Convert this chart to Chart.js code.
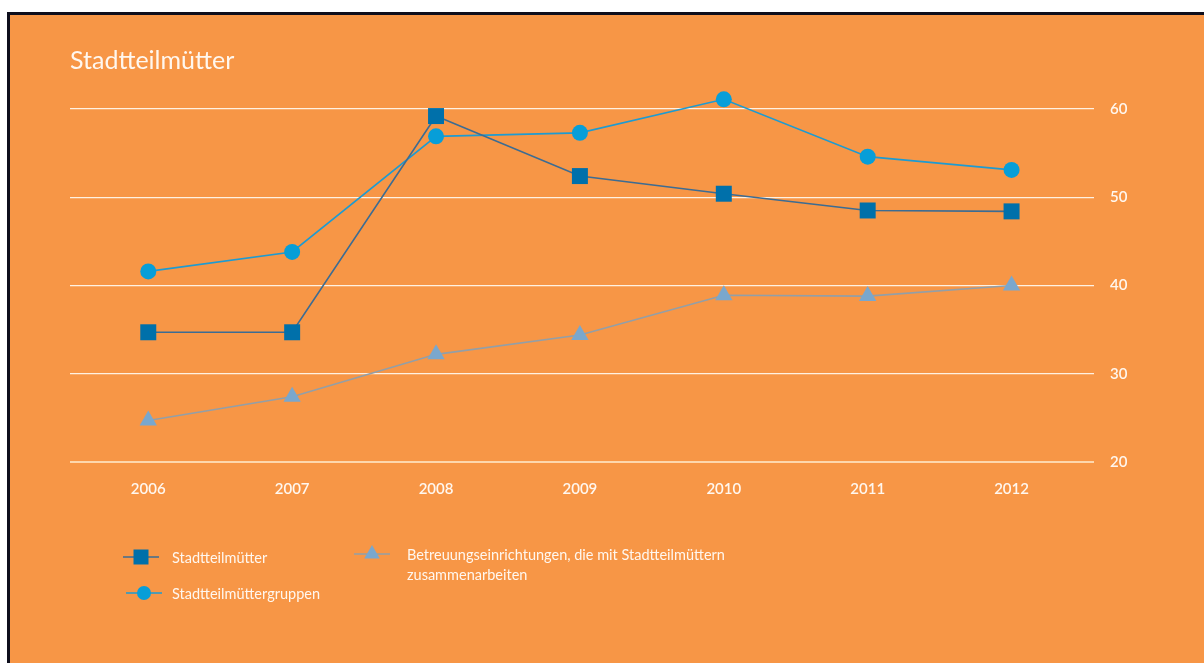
<!DOCTYPE html>
<html>
<head>
<meta charset="utf-8">
<script src="https://cdn.jsdelivr.net/npm/chart.js@4.4.1/dist/chart.umd.min.js"></script>
<style>
  html, body { margin: 0; padding: 0; background: #ffffff; }
  #frame {
    position: absolute; left: 7px; top: 12px; width: 1197px; height: 651px;
    box-sizing: border-box; border-left: 3px solid #0e0e1c; border-top: 3px solid #0e0e1c;
    background: #f79646;
  }
  #chart { position: absolute; left: 0; top: 0; }
</style>
</head>
<body>
<div id="frame"></div>
<canvas id="chart" width="1204" height="663"></canvas>
<script>
'use strict';

// ── Daten ─────────────────────────────────────────────────────────────────────

const years = ['2006', '2007', '2008', '2009', '2010', '2011', '2012'];
const yTicks = [20, 30, 40, 50, 60];

const muetter  = [34.7, 34.7, 59.2, 52.4, 50.4, 48.5, 48.4];
const gruppen  = [41.6, 43.8, 56.9, 57.3, 61.1, 54.6, 53.1];
const betreuung = [24.7, 27.4, 32.2, 34.4, 38.9, 38.8, 40.0];

const seriesNames = [
  'Stadtteilmütter',
  'Stadtteilmüttergruppen',
  'Betreuungseinrichtungen, die mit Stadtteilmüttern zusammenarbeiten',
];
const legendLines = [
  ['Stadtteilmütter'],
  ['Stadtteilmüttergruppen'],
  ['Betreuungseinrichtungen, die mit Stadtteilmüttern', 'zusammenarbeiten'],
];

const FONT = 'Lato, "Open Sans", sans-serif';
const TXT = '#fff7ef';

const toPoints = vals => vals.map((v, i) => ({ x: i, y: v }));

// ── Titel + Legende ───────────────────────────────────────────────────────────

const legendPos = [
  { x: 141, y: 557, tx: 172, r: 10.6 },
  { x: 144, y: 593, tx: 172, r: 7 },
  { x: 372, y: 554, tx: 407, r: 9 },
];

const decor = {
  id: 'decor',
  afterDraw(chart) {
    const ctx = chart.ctx;
    ctx.save();
    ctx.fillStyle = TXT;
    ctx.font = '25px ' + FONT;
    ctx.textAlign = 'left';
    ctx.textBaseline = 'alphabetic';
    ctx.fillText('Stadtteilmütter', 70, 69);

    chart.data.datasets.forEach((ds, i) => {
      const p = legendPos[i];
      ctx.strokeStyle = ds.borderColor;
      ctx.lineWidth = 1.6;
      ctx.beginPath(); ctx.moveTo(p.x - 18, p.y); ctx.lineTo(p.x + 18, p.y); ctx.stroke();
      ctx.fillStyle = ds.pointBackgroundColor;
      ctx.strokeStyle = ds.pointBackgroundColor;
      Chart.helpers.drawPoint(ctx, { pointStyle: ds.pointStyle, radius: p.r, rotation: 0, borderWidth: 0 }, p.x, p.y);
      ctx.fillStyle = TXT;
      ctx.font = '14.5px ' + FONT;
      ctx.textBaseline = 'middle';
      legendLines[i].forEach((line, k) => ctx.fillText(line, p.tx, p.y + 1 + k * 20));
    });
    ctx.restore();
  },
};

// ── Diagramm ──────────────────────────────────────────────────────────────────

const lineDs = (label, vals, line, fill, style, radius) => ({
  label,
  data: toPoints(vals),
  borderColor: line,
  borderWidth: 1.6,
  pointStyle: style,
  pointRadius: radius,
  pointHoverRadius: radius,
  pointBackgroundColor: fill,
  pointBorderColor: fill,
  pointBorderWidth: 0,
  tension: 0,
  clip: false,
});

new Chart(document.getElementById('chart'), {
  type: 'line',
  data: {
    datasets: [
      lineDs(seriesNames[0], muetter, '#3c6c93', '#0070aa', 'rect', 11.3),
      lineDs(seriesNames[1], gruppen, '#1d9bd2', '#079ed8', 'circle', 8),
      lineDs(seriesNames[2], betreuung, '#929fa8', '#7aa7cd', 'triangle', 10),
    ],
  },
  options: {
    responsive: false,
    animation: false,
    events: [],
    layout: { padding: { left: 70, top: 91.35, right: 50, bottom: 161 } },
    plugins: { legend: { display: false }, title: { display: false }, tooltip: { enabled: false } },
    scales: {
      x: {
        type: 'linear',
        min: -0.544,
        max: 6.573,
        afterFit: s => { s.height = 40; },
        afterBuildTicks: s => { s.ticks = years.map((_, i) => ({ value: i })); },
        grid: { display: false },
        border: { display: false },
        ticks: {
          color: TXT,
          font: { family: FONT, size: 15, weight: '600' },
          padding: 10,
          maxRotation: 0,
          callback: v => years[v] ?? '',
        },
      },
      y: {
        position: 'right',
        min: 20,
        max: 62,
        afterFit: s => { s.width = 60; },
        afterBuildTicks: s => { s.ticks = yTicks.map(v => ({ value: v })); },
        grid: {
          drawTicks: false,
          color: ctx => ctx.tick && ctx.tick.value === 20 ? '#fdd7ad' : '#fff1e2',
          lineWidth: ctx => ctx.tick && ctx.tick.value === 20 ? 2 : 1.3,
        },
        border: { display: false },
        ticks: {
          color: TXT,
          font: { family: FONT, size: 15, weight: '600' },
          padding: 16,
        },
      },
    },
  },
  plugins: [decor],
});
</script>
</body>
</html>
